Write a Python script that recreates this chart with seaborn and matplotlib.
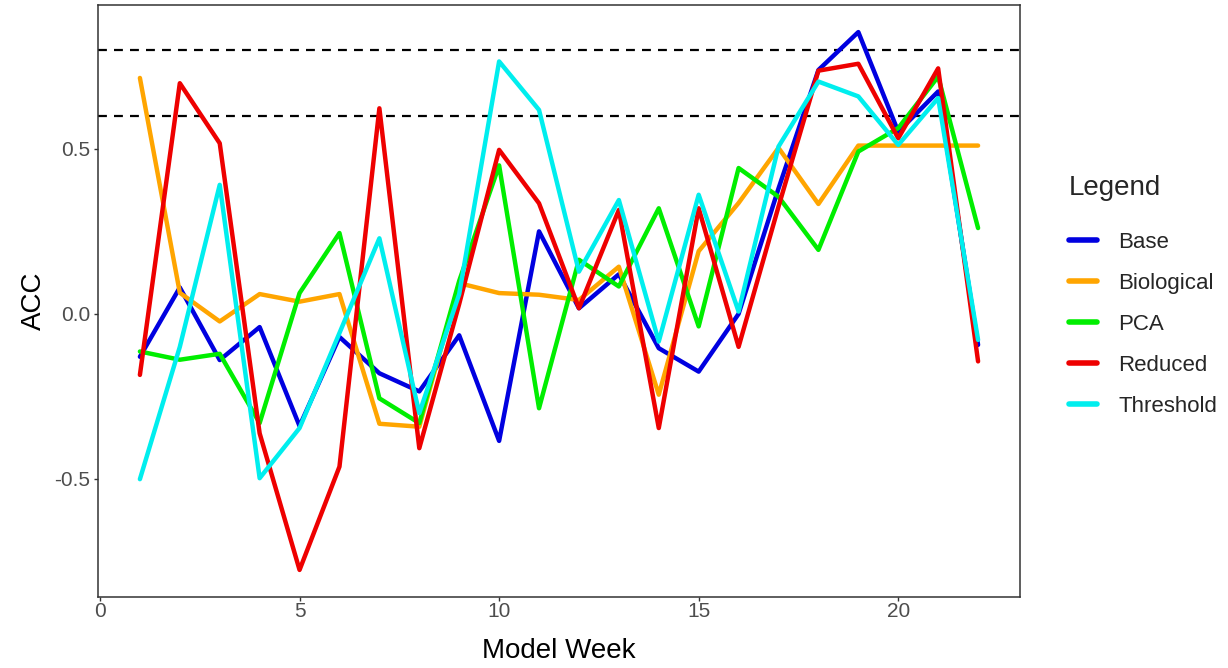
import numpy as np
import pandas as pd
import matplotlib
matplotlib.use("Agg")
import matplotlib.pyplot as plt
import seaborn as sns

weeks = list(range(1, 23))

base = [-0.13, 0.08, -0.14, -0.04, -0.34, -0.07, -0.18, -0.235, -0.065, -0.385,
        0.25, 0.017, 0.12, -0.104, -0.175, 0.0, 0.38, 0.739, 0.854, 0.552, 0.674, -0.094]
biological = [0.715, 0.064, -0.023, 0.06, 0.037, 0.06, -0.333, -0.342, 0.093, 0.063,
              0.058, 0.042, 0.143, -0.245, 0.19, 0.336, 0.503, 0.333, 0.51, 0.51, 0.51, 0.51]
pca = [-0.114, -0.139, -0.121, -0.331, 0.063, 0.245, -0.256, -0.331, 0.1, 0.45,
       -0.286, 0.164, 0.083, 0.32, -0.038, 0.442, 0.355, 0.194, 0.492, 0.563, 0.719, 0.26]
reduced = [-0.185, 0.699, 0.517, -0.362, -0.776, -0.463, 0.623, -0.407, 0.03, 0.497,
           0.335, 0.017, 0.315, -0.346, 0.32, -0.1, 0.325, 0.737, 0.758, 0.532, 0.744, -0.144]
threshold = [-0.501, -0.1, 0.391, -0.498, -0.346, -0.058, 0.229, -0.301, 0.06, 0.765,
             0.618, 0.128, 0.345, -0.084, 0.361, 0.007, 0.507, 0.704, 0.659, 0.512, 0.654, -0.079]

models = ["Base", "Biological", "PCA", "Reduced", "Threshold"]
colors = ["#0000E0", "#FFA500", "#00EE00", "#EE0000", "#00EEEE"]
thresholds = [0.6, 0.8]

series = dict(zip(models, [base, biological, pca, reduced, threshold]))
df = pd.DataFrame(
    [(w, m, v) for m in models for w, v in zip(weeks, series[m])],
    columns=["Week", "Model", "ACC"],
)

sns.set_theme(style="white")
plt.rcParams["font.family"] = ["Liberation Sans", "DejaVu Sans"]

fig = plt.figure(figsize=(12.28, 6.68), dpi=100)
ax = fig.add_axes([0.0798, 0.1063, 0.7508, 0.8862])

sns.lineplot(data=df, x="Week", y="ACC", hue="Model", hue_order=models,
             palette=dict(zip(models, colors)), linewidth=3.2, ax=ax,
             estimator=None, sort=False)

for t in thresholds:
    ax.axhline(t, color="black", linestyle=(0, (4, 3.2)), linewidth=1.6, zorder=0.5)

ax.set_xlim(-0.05, 23.05)
ax.set_ylim(-0.858, 0.936)
ax.set_xticks([0, 5, 10, 15, 20])
ax.set_yticks([-0.5, 0.0, 0.5])
ax.set_yticklabels(["-0.5", "0.0", "0.5"])
ax.tick_params(axis="both", which="both", length=3.2, width=1, color="#333333",
               labelsize=15, labelcolor="#4D4D4D", direction="out",
               bottom=True, left=True)
ax.tick_params(axis="x", pad=0.5)
ax.tick_params(axis="y", pad=2.5)
for sp in ax.spines.values():
    sp.set_color("#333333")
    sp.set_linewidth(1.1)
ax.set_xlabel("Model Week", fontsize=20, color="black", labelpad=12)
ax.set_ylabel("ACC", fontsize=20, color="black", labelpad=5)

handles, labels = ax.get_legend_handles_labels()
leg = ax.legend(handles, labels, title="Legend", loc="center left",
                bbox_to_anchor=(1.043, 0.508), frameon=False, fontsize=16,
                title_fontsize=20, handlelength=1.3, handletextpad=0.95,
                labelspacing=0.9, borderaxespad=0.0)
leg._legend_box.align = "left"
leg._legend_box.sep = 22
for line in leg.get_lines():
    line.set_linewidth(4)

fig.savefig("out.png", dpi=100)
